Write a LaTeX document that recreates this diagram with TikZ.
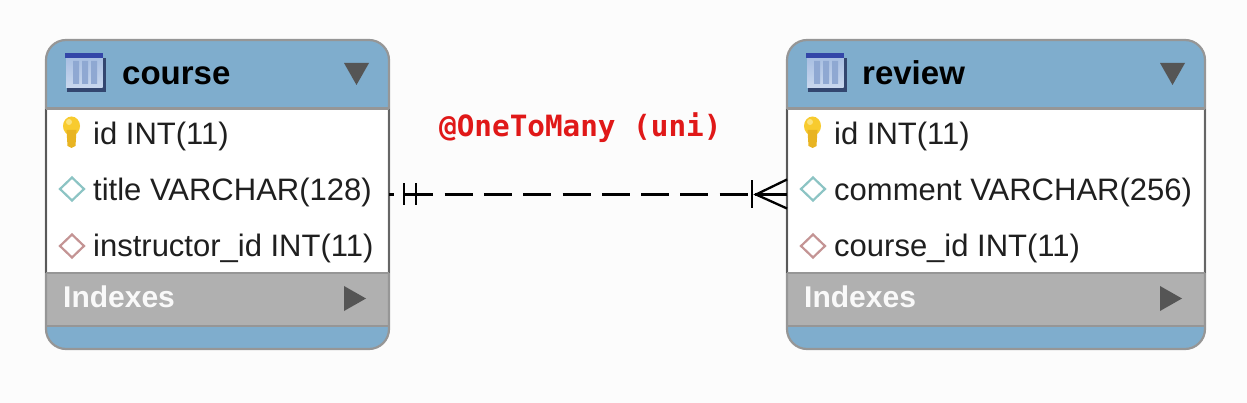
\documentclass[tikz,border=0pt]{standalone}
\usepackage{fontspec}
\setmainfont{Liberation Sans}
\newfontfamily\labelmono{DejaVu Sans Mono}
\usetikzlibrary{calc}
\definecolor{hdr}{HTML}{7FADCD}
\definecolor{idx}{HTML}{B0B0B0}
\definecolor{edge}{HTML}{969696}
\definecolor{sheet}{HTML}{FCFCFC}
\definecolor{tri}{HTML}{555555}
\definecolor{rel}{HTML}{E01818}
\definecolor{iconshadow}{HTML}{33466F}
\definecolor{iconband}{HTML}{3346A8}
\definecolor{icontop}{HTML}{A9BFE2}
\definecolor{iconbot}{HTML}{C9D8EE}
\definecolor{iconcol}{HTML}{8FA8D2}
\definecolor{keya}{HTML}{F8CB2E}
\definecolor{keyb}{HTML}{E8B422}
\definecolor{keyc}{HTML}{FBE27A}
\definecolor{pkd}{HTML}{8CC4C4}
\definecolor{fkd}{HTML}{C49494}
\tikzset{
  rowtext/.style={anchor=base west,inner sep=0pt,font=\fontsize{31}{34}\selectfont,text=black!88},
  titletext/.style={anchor=base west,inner sep=0pt,font=\fontsize{33}{36}\bfseries\selectfont,text=black},
  idxtext/.style={anchor=base west,inner sep=0pt,font=\fontsize{30}{32}\bfseries\selectfont,text=white!92!idx},
  bodybox/.style={draw=none,fill=white,inner sep=0pt,outer sep=0pt,anchor=north west},
  fk/.style={line width=2.2pt,line join=miter},
  rellabel/.style={anchor=base west,inner sep=0pt,font=\fontsize{29.3}{34}\labelmono\bfseries\selectfont,text=rel},
  connector/.style={line width=2.3pt,black,dash pattern=on 28pt off 11.3pt,dash phase=23pt},
  crow/.style={line width=2.3pt,black}
}
\newcommand{\ertable}[7]{%
  \begin{scope}
    \clip[rounded corners=20pt] (#2,40) rectangle (#3,349);
    \fill[hdr] (#2,40) rectangle (#3,108);
    \fill[idx] (#2,273) rectangle (#3,326);
    \fill[hdr] (#2,326) rectangle (#3,349);
    \draw[edge,line width=2pt] (#2,108) -- (#3,108);
    \draw[edge,line width=2pt] (#2,273) -- (#3,273);
    \draw[edge,line width=2pt] (#2,326) -- (#3,326);
  \end{scope}
  \pgfmathsetmacro{\tw}{#3-#2}
  \node[bodybox,minimum width=\tw pt,minimum height=164pt] (#1) at (#2,109) {};
  \draw[edge,line width=2.2pt,rounded corners=20pt] (#2,40) rectangle (#3,349);
  \draw[black!65,line width=1.6pt] (#1.north west) -- (#1.south west);
  \draw[black!60,line width=1.4pt] (#1.north east) -- (#1.south east);
  \draw[edge,line width=2pt] (#1.north west) -- (#1.north east);
  \draw[edge,line width=2pt] (#1.south west) -- (#1.south east);
  \begin{scope}[shift={(#2,0)}]
    % table icon
    \fill[iconshadow] (21,58) rectangle (60,92);
    \shade[top color=icontop,bottom color=iconbot] (20,58) rectangle (56.5,88);
    \fill[iconband] (19,53) rectangle (57,58);
    \fill[iconcol] (27,61) rectangle (33,84) (36,61) rectangle (42,84) (45,61) rectangle (51,84);
    \node[titletext] (#1-title) at (#7,84.5) {#4};
    % key
    \fill[keya] (25.5,126) ellipse (8.5 and 9.5);
    \fill[keyb] (20.5,130) -- (30.5,130) -- (29.5,146) -- (25.5,148) -- (21.5,146) -- cycle;
    \fill[keyc] (23,122) circle (3);
    \node[rowtext] (#1-r1) at (47,145) {id INT(11)};
    % diamonds
    \draw[fk,draw=pkd,fill=white] (26,177.5) -- (38,189) -- (26,200.5) -- (14,189) -- cycle;
    \node[rowtext] (#1-r2) at (47,201) {#5};
    \draw[fk,draw=fkd,fill=white] (26,234.5) -- (38,246) -- (26,257.5) -- (14,246) -- cycle;
    \node[rowtext] (#1-r3) at (47,257) {#6};
    \node[idxtext] (#1-idx) at (17,307) {Indexes};
  \end{scope}
  \begin{scope}[shift={(#3,0)}]
    \fill[tri] (-45,63) -- (-20,63) -- (-32.5,85) -- cycle;
    \fill[tri] (-45,286) -- (-23,298.5) -- (-45,311) -- cycle;
  \end{scope}
}
\begin{document}
\begin{tikzpicture}[x=1pt,y=-1pt]
  \path[use as bounding box,fill=sheet] (0,0) rectangle (1247,403);
  \ertable{course}{46}{389}{course}{title VARCHAR(128)}{instructor\_id INT(11)}{76}
  \ertable{review}{787}{1205}{review}{comment VARCHAR(256)}{course\_id INT(11)}{75}
  \node[rellabel] (rellab) at (439,137) {@OneToMany (uni)};
  \coordinate (ca) at ([yshift=-3.5pt]course.east);
  \coordinate (rb) at ([yshift=-3.5pt]review.west);
  \draw[connector] (ca) -- (rb);
  \draw[crow] ($(ca)+(14,0)$) -- ($(ca)+(44,0)$);
  \draw[crow] ($(ca)+(15,-11)$) -- ($(ca)+(15,11)$);
  \draw[crow] ($(ca)+(27,-11)$) -- ($(ca)+(27,11)$);
  \draw[crow] ($(rb)+(-35,-14)$) -- ($(rb)+(-35,14)$);
  \draw[crow] ($(rb)+(-32,0)$) -- (rb);
  \draw[crow] (rb|-0,179.5) -- ($(rb)+(-31,0)$) -- (rb|-0,208.5);
\end{tikzpicture}
\end{document}
